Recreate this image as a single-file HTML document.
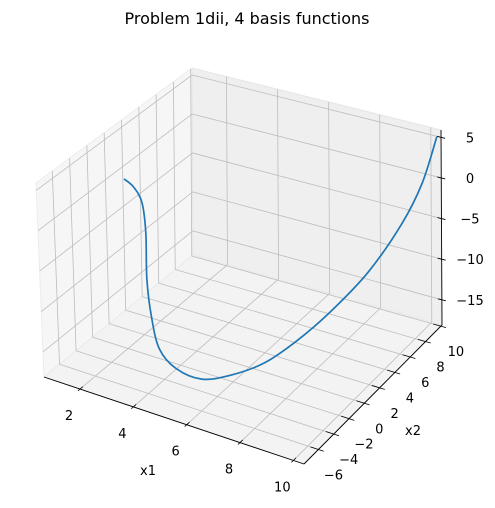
<!DOCTYPE html>
<html><head><meta charset="utf-8">
<style>
html,body{margin:0;padding:0;background:#fff;}
svg{display:block;font-family:"DejaVu Sans","Liberation Sans",sans-serif;}
</style></head>
<body>
<svg id="chart" width="495" height="508" viewBox="0 0 495 508">
<text x="247" y="24" font-size="16" text-anchor="middle" fill="#000">Problem 1dii, 4 basis functions</text>
<g id="panes"></g><g id="grid"></g><g id="axes"></g><g id="series"></g>
<text x="148" y="475" font-size="13" text-anchor="middle">x1</text>
<text x="413" y="435" font-size="13" text-anchor="middle">x2</text>
</svg>
<script>
// data
const x1Values=[1.13,1.45,1.75,1.92,2.0,2.54,3.43,4.31,5.31,6.06,6.83,7.46,8.05,8.7,9.35,9.85,10.25];
const x2Values=[0.7,0.82,0.85,0.7,0.45,-0.8,-2.73,-3.56,-3.64,-2.43,-0.77,1.24,3.6,6.3,8.5,9.5,10.1];
const zValues=[0,-0.8,-2.5,-6,-11.5,-14.5,-16,-16.8,-17,-16.8,-16,-14.5,-12.5,-9.5,-5,-0.5,5];
const x1Ticks=[2,4,6,8,10];
const x2Ticks=[-6,-4,-2,0,2,4,6,8,10];
const zTicks=[-15,-10,-5,0,5];

const X1MIN=0.65,X1MAX=10.4,X2MIN=-7.88,X2MAX=10.15,ZMIN=-18.1,ZMAX=5.9;
const FA=[44,377],FB=[304,464],FC=[442,325],FD=[193,255];
const TA=[36,183],TB=[298,270],TC=[441,130],TD=[192,68];
function bil(a,b,c,d,u,v){return [0,1].map(i=>(1-u)*(1-v)*a[i]+u*(1-v)*b[i]+u*v*c[i]+(1-u)*v*d[i]);}
function P(x1,x2,z){
  const u=(x1-X1MIN)/(X1MAX-X1MIN),v=(x2-X2MIN)/(X2MAX-X2MIN),w=(z-ZMIN)/(ZMAX-ZMIN);
  const f=bil(FA,FB,FC,FD,u,v),t=bil(TA,TB,TC,TD,u,v);
  return [f[0]+(t[0]-f[0])*w,f[1]+(t[1]-f[1])*w];
}
const NS='http://www.w3.org/2000/svg';
function mk(tag,parent,attrs){const e=document.createElementNS(NS,tag);for(const k in attrs)e.setAttribute(k,attrs[k]);document.getElementById(parent).appendChild(e);return e;}
function pts(a){return a.map(p=>p.join(',')).join(' ');}
function line(parent,p,q,stroke,sw){return mk('line',parent,{x1:p[0],y1:p[1],x2:q[0],y2:q[1],stroke:stroke,'stroke-width':sw});}

// panes
let e;
e=mk('polygon','panes',{points:pts([P(X1MIN,X2MIN,ZMIN),P(X1MIN,X2MAX,ZMIN),P(X1MIN,X2MAX,ZMAX),P(X1MIN,X2MIN,ZMAX)]),fill:'#f6f6f6',stroke:'#ececec'});


e=mk('polygon','panes',{points:pts([P(X1MIN,X2MAX,ZMIN),P(X1MAX,X2MAX,ZMIN),P(X1MAX,X2MAX,ZMAX),P(X1MIN,X2MAX,ZMAX)]),fill:'#efefef',stroke:'#e6e6e6'});


e=mk('polygon','panes',{points:pts([P(X1MIN,X2MIN,ZMIN),P(X1MAX,X2MIN,ZMIN),P(X1MAX,X2MAX,ZMIN),P(X1MIN,X2MAX,ZMIN)]),fill:'#f3f3f3',stroke:'#eaeaea'});



const G='#bdbdbd';
x1Ticks.forEach(t=>{
  e=line('grid',P(t,X2MIN,ZMIN),P(t,X2MAX,ZMIN),G,0.8);
  
  
  e=line('grid',P(t,X2MAX,ZMIN),P(t,X2MAX,ZMAX),G,0.8);
  
  
  e=line('axes',P(t,X2MIN+0.35,ZMIN),P(t,X2MIN-0.25,ZMIN),'#000',0.8);
  
  
  const p=P(t,X2MIN,ZMIN);
  e=mk('text','axes',{x:p[0]-11,y:p[1]+31,'font-size':13,'text-anchor':'middle'});e.textContent=t;
  
  
});
x2Ticks.forEach(t=>{
  e=line('grid',P(X1MIN,t,ZMIN),P(X1MAX,t,ZMIN),G,0.8);
  
  
  e=line('grid',P(X1MIN,t,ZMIN),P(X1MIN,t,ZMAX),G,0.8);
  
  
  e=line('axes',P(X1MAX-0.3,t,ZMIN),P(X1MAX+0.2,t,ZMIN),'#000',0.8);
  
  
  const p=P(X1MAX,t,ZMIN);
  e=mk('text','axes',{x:p[0]+15,y:p[1]+30,'font-size':13,'text-anchor':'middle'});e.textContent=String(t).replace('-','\u2212');
  
  
});
zTicks.forEach(t=>{
  e=line('grid',P(X1MIN,X2MAX,t),P(X1MAX,X2MAX,t),G,0.8);
  
  
  e=line('grid',P(X1MIN,X2MIN,t),P(X1MIN,X2MAX,t),G,0.8);
  
  
  const p=P(X1MAX,X2MAX,t);
  e=line('axes',[p[0]-4,p[1]-1],[p[0]+4,p[1]+1],'#000',0.8);
  
  
  e=mk('text','axes',{x:470,y:p[1]+5,'font-size':13,'text-anchor':'middle'});e.textContent=String(t).replace('-','\u2212');
  
  
});
e=line('axes',P(X1MIN,X2MIN,ZMIN),P(X1MAX,X2MIN,ZMIN),'#000',0.9);


e=line('axes',P(X1MAX,X2MIN,ZMIN),P(X1MAX,X2MAX,ZMIN),'#000',0.9);


e=line('axes',P(X1MAX,X2MAX,ZMIN),P(X1MAX,X2MAX,ZMAX),'#000',0.9);



// series (Catmull-Rom through projected points)
const sp=x1Values.map((x,i)=>P(x,x2Values[i],zValues[i]));
let d='M'+sp[0].join(',');
for(let i=0;i<sp.length-1;i++){
  const p0=sp[Math.max(0,i-1)],p1=sp[i],p2=sp[i+1],p3=sp[Math.min(sp.length-1,i+2)];
  const c1=[p1[0]+(p2[0]-p0[0])/6,p1[1]+(p2[1]-p0[1])/6];
  const c2=[p2[0]-(p3[0]-p1[0])/6,p2[1]-(p3[1]-p1[1])/6];
  d+=' C'+c1.join(',')+' '+c2.join(',')+' '+p2.join(',');
}
e=mk('path','series',{d:d,fill:'none',stroke:'#1f77b4','stroke-width':1.7});


</script>
</body></html>
